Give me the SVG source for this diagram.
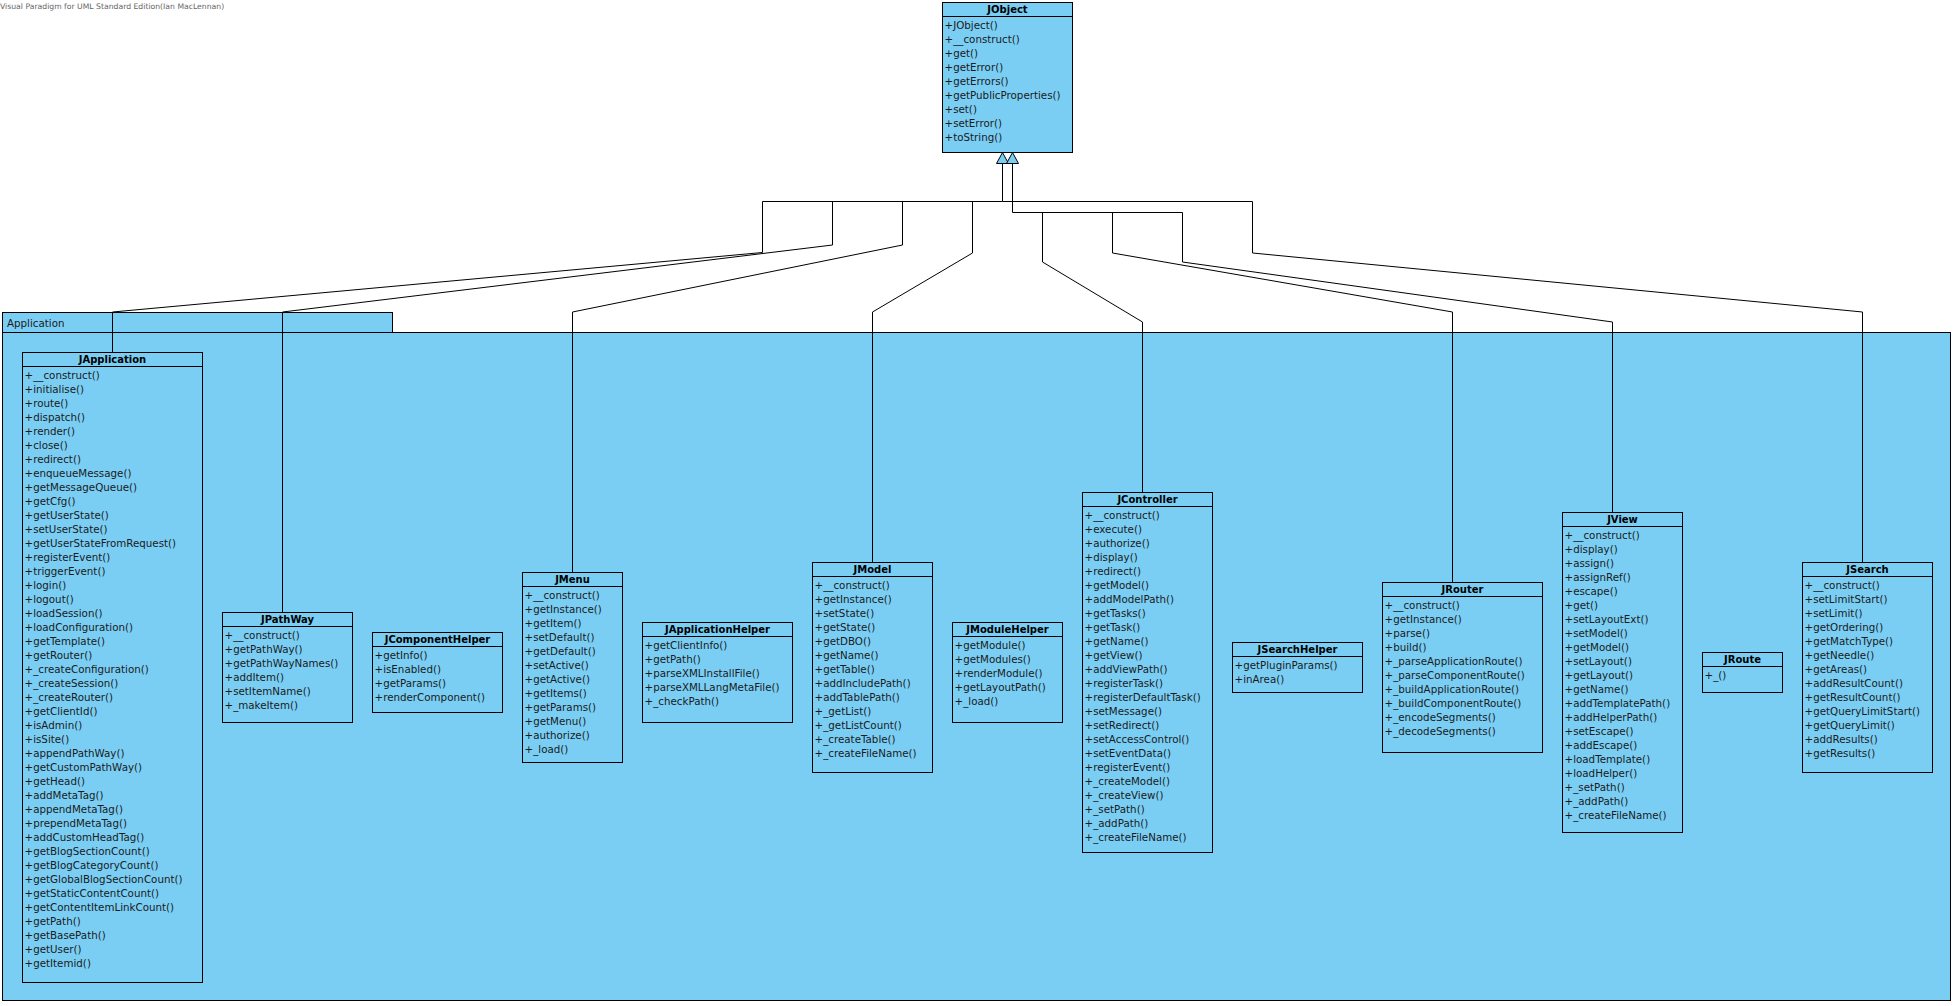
<svg xmlns="http://www.w3.org/2000/svg" width="1956" height="1006" viewBox="0 0 1956 1006">
<style>
  .box { fill: #7ACEF4; stroke: #000; stroke-width: 1; }
  .sep { stroke: #000; stroke-width: 1; }
  .title { font-family: "DejaVu Sans", sans-serif; font-size: 10px; font-weight: bold; fill: #000; text-anchor: middle; }
  .ops { font-family: "DejaVu Sans", sans-serif; font-size: 10.3px; fill: #1a1a1a; }
  .pkg { font-family: "DejaVu Sans", sans-serif; font-size: 10.3px; fill: #1a1a1a; }
  .wm { font-family: "DejaVu Sans", sans-serif; font-size: 7.7px; fill: #666; }
  .conn { fill: none; stroke: #000; stroke-width: 1; }
  .gen { fill: #7ACEF4; stroke: #000; stroke-width: 1; }
</style>

<text class="wm" x="0" y="9">Visual Paradigm for UML Standard Edition(Ian MacLennan)</text>

<!-- package frame -->
<g id="pkg-application">
  <rect class="box" x="2.5" y="312.5" width="390" height="20"/>
  <rect class="box" x="2.5" y="332.5" width="1948" height="668"/>
  <text class="pkg" x="7" y="326.5">Application</text>
</g>

<!-- generalization connectors -->
<g id="connectors">
  <path class="conn" d="M1002.5,163 V201.5 H762.5 V252.5 L112.5,312 V352"/>
  <path class="conn" d="M832.5,201.5 V245 L282.5,312 V612"/>
  <path class="conn" d="M902.5,201.5 V245 L572.5,312 V572"/>
  <path class="conn" d="M972.5,201.5 V253 L872.5,312 V562"/>
  <path class="conn" d="M1002.5,201.5 H1252.5 V253 L1862.5,312 V562"/>
  <path class="conn" d="M1012.5,163 V212.5 H1182.5 V262 L1612.5,322 V512"/>
  <path class="conn" d="M1042.5,212.5 V262 L1142.5,322 V492"/>
  <path class="conn" d="M1112.5,212.5 V253 L1452.5,312 V582"/>
  <polygon class="gen" points="1002.5,152.5 996.5,163.5 1008.5,163.5"/>
  <polygon class="gen" points="1012.5,152.5 1006.5,163.5 1018.5,163.5"/>
</g>

<g id="JObject" transform="translate(942,2)">
  <rect class="box" x="0.5" y="0.5" width="130" height="150"/>
  <line class="sep" x1="0.5" y1="14.5" x2="130.5" y2="14.5"/>
  <text class="title" x="65.5" y="11">JObject</text>
  <text class="ops" x="2.5" y="27"><tspan x="2.5">+JObject()</tspan><tspan x="2.5" dy="14">+__construct()</tspan><tspan x="2.5" dy="14">+get()</tspan><tspan x="2.5" dy="14">+getError()</tspan><tspan x="2.5" dy="14">+getErrors()</tspan><tspan x="2.5" dy="14">+getPublicProperties()</tspan><tspan x="2.5" dy="14">+set()</tspan><tspan x="2.5" dy="14">+setError()</tspan><tspan x="2.5" dy="14">+toString()</tspan></text>
</g>

<g id="JApplication" transform="translate(22,352)">
  <rect class="box" x="0.5" y="0.5" width="180" height="630"/>
  <line class="sep" x1="0.5" y1="14.5" x2="180.5" y2="14.5"/>
  <text class="title" x="90.5" y="11">JApplication</text>
  <text class="ops" x="2.5" y="27"><tspan x="2.5">+__construct()</tspan><tspan x="2.5" dy="14">+initialise()</tspan><tspan x="2.5" dy="14">+route()</tspan><tspan x="2.5" dy="14">+dispatch()</tspan><tspan x="2.5" dy="14">+render()</tspan><tspan x="2.5" dy="14">+close()</tspan><tspan x="2.5" dy="14">+redirect()</tspan><tspan x="2.5" dy="14">+enqueueMessage()</tspan><tspan x="2.5" dy="14">+getMessageQueue()</tspan><tspan x="2.5" dy="14">+getCfg()</tspan><tspan x="2.5" dy="14">+getUserState()</tspan><tspan x="2.5" dy="14">+setUserState()</tspan><tspan x="2.5" dy="14">+getUserStateFromRequest()</tspan><tspan x="2.5" dy="14">+registerEvent()</tspan><tspan x="2.5" dy="14">+triggerEvent()</tspan><tspan x="2.5" dy="14">+login()</tspan><tspan x="2.5" dy="14">+logout()</tspan><tspan x="2.5" dy="14">+loadSession()</tspan><tspan x="2.5" dy="14">+loadConfiguration()</tspan><tspan x="2.5" dy="14">+getTemplate()</tspan><tspan x="2.5" dy="14">+getRouter()</tspan><tspan x="2.5" dy="14">+_createConfiguration()</tspan><tspan x="2.5" dy="14">+_createSession()</tspan><tspan x="2.5" dy="14">+_createRouter()</tspan><tspan x="2.5" dy="14">+getClientId()</tspan><tspan x="2.5" dy="14">+isAdmin()</tspan><tspan x="2.5" dy="14">+isSite()</tspan><tspan x="2.5" dy="14">+appendPathWay()</tspan><tspan x="2.5" dy="14">+getCustomPathWay()</tspan><tspan x="2.5" dy="14">+getHead()</tspan><tspan x="2.5" dy="14">+addMetaTag()</tspan><tspan x="2.5" dy="14">+appendMetaTag()</tspan><tspan x="2.5" dy="14">+prependMetaTag()</tspan><tspan x="2.5" dy="14">+addCustomHeadTag()</tspan><tspan x="2.5" dy="14">+getBlogSectionCount()</tspan><tspan x="2.5" dy="14">+getBlogCategoryCount()</tspan><tspan x="2.5" dy="14">+getGlobalBlogSectionCount()</tspan><tspan x="2.5" dy="14">+getStaticContentCount()</tspan><tspan x="2.5" dy="14">+getContentItemLinkCount()</tspan><tspan x="2.5" dy="14">+getPath()</tspan><tspan x="2.5" dy="14">+getBasePath()</tspan><tspan x="2.5" dy="14">+getUser()</tspan><tspan x="2.5" dy="14">+getItemid()</tspan></text>
</g>

<g id="JPathWay" transform="translate(222,612)">
  <rect class="box" x="0.5" y="0.5" width="130" height="110"/>
  <line class="sep" x1="0.5" y1="14.5" x2="130.5" y2="14.5"/>
  <text class="title" x="65.5" y="11">JPathWay</text>
  <text class="ops" x="2.5" y="27"><tspan x="2.5">+__construct()</tspan><tspan x="2.5" dy="14">+getPathWay()</tspan><tspan x="2.5" dy="14">+getPathWayNames()</tspan><tspan x="2.5" dy="14">+addItem()</tspan><tspan x="2.5" dy="14">+setItemName()</tspan><tspan x="2.5" dy="14">+_makeItem()</tspan></text>
</g>

<g id="JComponentHelper" transform="translate(372,632)">
  <rect class="box" x="0.5" y="0.5" width="130" height="80"/>
  <line class="sep" x1="0.5" y1="14.5" x2="130.5" y2="14.5"/>
  <text class="title" x="65.5" y="11">JComponentHelper</text>
  <text class="ops" x="2.5" y="27"><tspan x="2.5">+getInfo()</tspan><tspan x="2.5" dy="14">+isEnabled()</tspan><tspan x="2.5" dy="14">+getParams()</tspan><tspan x="2.5" dy="14">+renderComponent()</tspan></text>
</g>

<g id="JMenu" transform="translate(522,572)">
  <rect class="box" x="0.5" y="0.5" width="100" height="190"/>
  <line class="sep" x1="0.5" y1="14.5" x2="100.5" y2="14.5"/>
  <text class="title" x="50.5" y="11">JMenu</text>
  <text class="ops" x="2.5" y="27"><tspan x="2.5">+__construct()</tspan><tspan x="2.5" dy="14">+getInstance()</tspan><tspan x="2.5" dy="14">+getItem()</tspan><tspan x="2.5" dy="14">+setDefault()</tspan><tspan x="2.5" dy="14">+getDefault()</tspan><tspan x="2.5" dy="14">+setActive()</tspan><tspan x="2.5" dy="14">+getActive()</tspan><tspan x="2.5" dy="14">+getItems()</tspan><tspan x="2.5" dy="14">+getParams()</tspan><tspan x="2.5" dy="14">+getMenu()</tspan><tspan x="2.5" dy="14">+authorize()</tspan><tspan x="2.5" dy="14">+_load()</tspan></text>
</g>

<g id="JApplicationHelper" transform="translate(642,622)">
  <rect class="box" x="0.5" y="0.5" width="150" height="100"/>
  <line class="sep" x1="0.5" y1="14.5" x2="150.5" y2="14.5"/>
  <text class="title" x="75.5" y="11">JApplicationHelper</text>
  <text class="ops" x="2.5" y="27"><tspan x="2.5">+getClientInfo()</tspan><tspan x="2.5" dy="14">+getPath()</tspan><tspan x="2.5" dy="14">+parseXMLInstallFile()</tspan><tspan x="2.5" dy="14">+parseXMLLangMetaFile()</tspan><tspan x="2.5" dy="14">+_checkPath()</tspan></text>
</g>

<g id="JModel" transform="translate(812,562)">
  <rect class="box" x="0.5" y="0.5" width="120" height="210"/>
  <line class="sep" x1="0.5" y1="14.5" x2="120.5" y2="14.5"/>
  <text class="title" x="60.5" y="11">JModel</text>
  <text class="ops" x="2.5" y="27"><tspan x="2.5">+__construct()</tspan><tspan x="2.5" dy="14">+getInstance()</tspan><tspan x="2.5" dy="14">+setState()</tspan><tspan x="2.5" dy="14">+getState()</tspan><tspan x="2.5" dy="14">+getDBO()</tspan><tspan x="2.5" dy="14">+getName()</tspan><tspan x="2.5" dy="14">+getTable()</tspan><tspan x="2.5" dy="14">+addIncludePath()</tspan><tspan x="2.5" dy="14">+addTablePath()</tspan><tspan x="2.5" dy="14">+_getList()</tspan><tspan x="2.5" dy="14">+_getListCount()</tspan><tspan x="2.5" dy="14">+_createTable()</tspan><tspan x="2.5" dy="14">+_createFileName()</tspan></text>
</g>

<g id="JModuleHelper" transform="translate(952,622)">
  <rect class="box" x="0.5" y="0.5" width="110" height="100"/>
  <line class="sep" x1="0.5" y1="14.5" x2="110.5" y2="14.5"/>
  <text class="title" x="55.5" y="11">JModuleHelper</text>
  <text class="ops" x="2.5" y="27"><tspan x="2.5">+getModule()</tspan><tspan x="2.5" dy="14">+getModules()</tspan><tspan x="2.5" dy="14">+renderModule()</tspan><tspan x="2.5" dy="14">+getLayoutPath()</tspan><tspan x="2.5" dy="14">+_load()</tspan></text>
</g>

<g id="JController" transform="translate(1082,492)">
  <rect class="box" x="0.5" y="0.5" width="130" height="360"/>
  <line class="sep" x1="0.5" y1="14.5" x2="130.5" y2="14.5"/>
  <text class="title" x="65.5" y="11">JController</text>
  <text class="ops" x="2.5" y="27"><tspan x="2.5">+__construct()</tspan><tspan x="2.5" dy="14">+execute()</tspan><tspan x="2.5" dy="14">+authorize()</tspan><tspan x="2.5" dy="14">+display()</tspan><tspan x="2.5" dy="14">+redirect()</tspan><tspan x="2.5" dy="14">+getModel()</tspan><tspan x="2.5" dy="14">+addModelPath()</tspan><tspan x="2.5" dy="14">+getTasks()</tspan><tspan x="2.5" dy="14">+getTask()</tspan><tspan x="2.5" dy="14">+getName()</tspan><tspan x="2.5" dy="14">+getView()</tspan><tspan x="2.5" dy="14">+addViewPath()</tspan><tspan x="2.5" dy="14">+registerTask()</tspan><tspan x="2.5" dy="14">+registerDefaultTask()</tspan><tspan x="2.5" dy="14">+setMessage()</tspan><tspan x="2.5" dy="14">+setRedirect()</tspan><tspan x="2.5" dy="14">+setAccessControl()</tspan><tspan x="2.5" dy="14">+setEventData()</tspan><tspan x="2.5" dy="14">+registerEvent()</tspan><tspan x="2.5" dy="14">+_createModel()</tspan><tspan x="2.5" dy="14">+_createView()</tspan><tspan x="2.5" dy="14">+_setPath()</tspan><tspan x="2.5" dy="14">+_addPath()</tspan><tspan x="2.5" dy="14">+_createFileName()</tspan></text>
</g>

<g id="JSearchHelper" transform="translate(1232,642)">
  <rect class="box" x="0.5" y="0.5" width="130" height="50"/>
  <line class="sep" x1="0.5" y1="14.5" x2="130.5" y2="14.5"/>
  <text class="title" x="65.5" y="11">JSearchHelper</text>
  <text class="ops" x="2.5" y="27"><tspan x="2.5">+getPluginParams()</tspan><tspan x="2.5" dy="14">+inArea()</tspan></text>
</g>

<g id="JRouter" transform="translate(1382,582)">
  <rect class="box" x="0.5" y="0.5" width="160" height="170"/>
  <line class="sep" x1="0.5" y1="14.5" x2="160.5" y2="14.5"/>
  <text class="title" x="80.5" y="11">JRouter</text>
  <text class="ops" x="2.5" y="27"><tspan x="2.5">+__construct()</tspan><tspan x="2.5" dy="14">+getInstance()</tspan><tspan x="2.5" dy="14">+parse()</tspan><tspan x="2.5" dy="14">+build()</tspan><tspan x="2.5" dy="14">+_parseApplicationRoute()</tspan><tspan x="2.5" dy="14">+_parseComponentRoute()</tspan><tspan x="2.5" dy="14">+_buildApplicationRoute()</tspan><tspan x="2.5" dy="14">+_buildComponentRoute()</tspan><tspan x="2.5" dy="14">+_encodeSegments()</tspan><tspan x="2.5" dy="14">+_decodeSegments()</tspan></text>
</g>

<g id="JView" transform="translate(1562,512)">
  <rect class="box" x="0.5" y="0.5" width="120" height="320"/>
  <line class="sep" x1="0.5" y1="14.5" x2="120.5" y2="14.5"/>
  <text class="title" x="60.5" y="11">JView</text>
  <text class="ops" x="2.5" y="27"><tspan x="2.5">+__construct()</tspan><tspan x="2.5" dy="14">+display()</tspan><tspan x="2.5" dy="14">+assign()</tspan><tspan x="2.5" dy="14">+assignRef()</tspan><tspan x="2.5" dy="14">+escape()</tspan><tspan x="2.5" dy="14">+get()</tspan><tspan x="2.5" dy="14">+setLayoutExt()</tspan><tspan x="2.5" dy="14">+setModel()</tspan><tspan x="2.5" dy="14">+getModel()</tspan><tspan x="2.5" dy="14">+setLayout()</tspan><tspan x="2.5" dy="14">+getLayout()</tspan><tspan x="2.5" dy="14">+getName()</tspan><tspan x="2.5" dy="14">+addTemplatePath()</tspan><tspan x="2.5" dy="14">+addHelperPath()</tspan><tspan x="2.5" dy="14">+setEscape()</tspan><tspan x="2.5" dy="14">+addEscape()</tspan><tspan x="2.5" dy="14">+loadTemplate()</tspan><tspan x="2.5" dy="14">+loadHelper()</tspan><tspan x="2.5" dy="14">+_setPath()</tspan><tspan x="2.5" dy="14">+_addPath()</tspan><tspan x="2.5" dy="14">+_createFileName()</tspan></text>
</g>

<g id="JRoute" transform="translate(1702,652)">
  <rect class="box" x="0.5" y="0.5" width="80" height="40"/>
  <line class="sep" x1="0.5" y1="14.5" x2="80.5" y2="14.5"/>
  <text class="title" x="40.5" y="11">JRoute</text>
  <text class="ops" x="2.5" y="27">+_()</text>
</g>

<g id="JSearch" transform="translate(1802,562)">
  <rect class="box" x="0.5" y="0.5" width="130" height="210"/>
  <line class="sep" x1="0.5" y1="14.5" x2="130.5" y2="14.5"/>
  <text class="title" x="65.5" y="11">JSearch</text>
  <text class="ops" x="2.5" y="27"><tspan x="2.5">+__construct()</tspan><tspan x="2.5" dy="14">+setLimitStart()</tspan><tspan x="2.5" dy="14">+setLimit()</tspan><tspan x="2.5" dy="14">+getOrdering()</tspan><tspan x="2.5" dy="14">+getMatchType()</tspan><tspan x="2.5" dy="14">+getNeedle()</tspan><tspan x="2.5" dy="14">+getAreas()</tspan><tspan x="2.5" dy="14">+addResultCount()</tspan><tspan x="2.5" dy="14">+getResultCount()</tspan><tspan x="2.5" dy="14">+getQueryLimitStart()</tspan><tspan x="2.5" dy="14">+getQueryLimit()</tspan><tspan x="2.5" dy="14">+addResults()</tspan><tspan x="2.5" dy="14">+getResults()</tspan></text>
</g>
</svg>
